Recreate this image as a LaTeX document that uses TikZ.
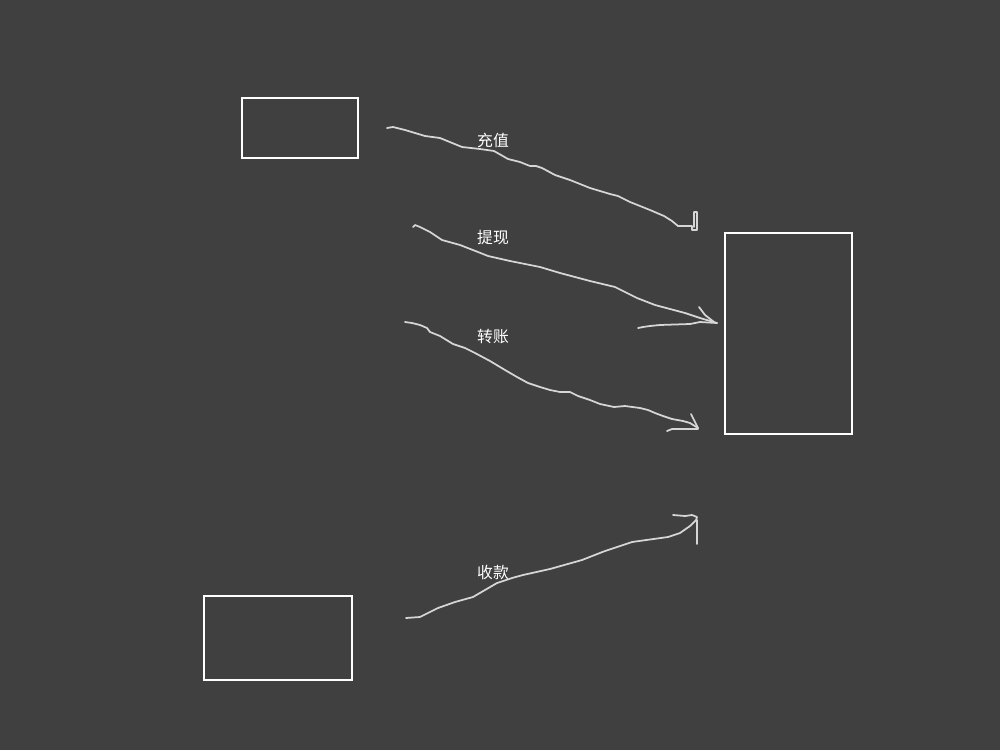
\documentclass[tikz,border=0pt]{standalone}
\usepackage{fontspec}
\newfontfamily\cjk{Noto Sans CJK SC}
\usepackage{xcolor}
\usetikzlibrary{positioning}
\definecolor{bg}{HTML}{404040}
\definecolor{pencil}{HTML}{D6D6D6}
\begin{document}
\begin{tikzpicture}[x=0.02cm,y=-0.02cm,
  box/.style={draw=white,line width=1.1pt,inner sep=0pt},
  pen/.style={draw=pencil,line width=1pt,line join=round,line cap=round},
  lbl/.style={text=white,font=\cjk\fontsize{9}{9}\selectfont,inner sep=0pt}]
   \fill[bg] (0,0) rectangle (1000,750);
   \node[box,minimum width=2.32cm,minimum height=1.2cm] (user) at (300,128) {};
   \node[box,minimum width=2.54cm,minimum height=4.02cm] (account) at (788.5,333.5) {};
   \node[box,minimum width=2.96cm,minimum height=1.68cm] (payer) at (278,638) {};

   \node[lbl] (recharge) at (493,140) {充值};
   \node[lbl] (withdraw) at (493,238) {提现};
   \node[lbl] (transfer) at (493,337) {转账};
   \node[lbl] (receive) at (493,572) {收款};

   \draw[pen] (387,128) -- (393,127) -- (405,130) -- (425,136) -- (440,138) -- (462,147) -- (480,149) -- (494,151) -- (508,159) -- (520,162) -- (530,166) -- (536,166) -- (542,168) -- (555,175) -- (570,180) -- (590,188) -- (610,194) -- (618,196) -- (630,202) -- (650,210) -- (664,216) -- (672,221) -- (678,226) -- (692,226) -- (692,230) -- (697,230) -- (697,212) -- (694,212) -- (694,227);

   \draw[pen] (413,227) -- (415,225) -- (420,227) -- (430,232) -- (442,240) -- (460,245) -- (478,252) -- (488,256) -- (510,261) -- (540,267) -- (560,273) -- (590,281) -- (615,287) -- (625,292) -- (637,298) -- (655,305) -- (670,309) -- (685,313) -- (700,318) -- (717,323);
   \draw[pen] (699,307) -- (705,315) -- (714,322);
   \draw[pen] (638,328) -- (643,327) -- (650,326) -- (660,325) -- (690,324) -- (700,322) -- (717,323);

   \draw[pen] (405,322) -- (412,323) -- (420,325) -- (427,328) -- (430,332) -- (440,336) -- (453,344) -- (465,348) -- (475,353) -- (490,361) -- (505,370) -- (517,377) -- (528,383) -- (540,387) -- (550,390) -- (560,392) -- (570,392) -- (578,396) -- (590,400) -- (600,404) -- (614,407) -- (625,406) -- (640,408) -- (648,410) -- (655,413) -- (663,416) -- (672,419) -- (683,421) -- (690,423) -- (698,428);
   \draw[pen] (691,414) -- (694,420) -- (698,428);
   \draw[pen] (667,431) -- (672,429) -- (698,429);

   \draw[pen] (406,618) -- (420,617) -- (438,608) -- (455,602) -- (473,597) -- (485,590) -- (497,583) -- (512,578) -- (523,575) -- (550,569) -- (582,560) -- (605,551) -- (632,542) -- (668,537) -- (680,533) -- (690,526) -- (696,520) -- (697,517) -- (692,515) -- (685,516) -- (673,515);
   \draw[pen] (697,520) -- (697,544);
\end{tikzpicture}
\end{document}
